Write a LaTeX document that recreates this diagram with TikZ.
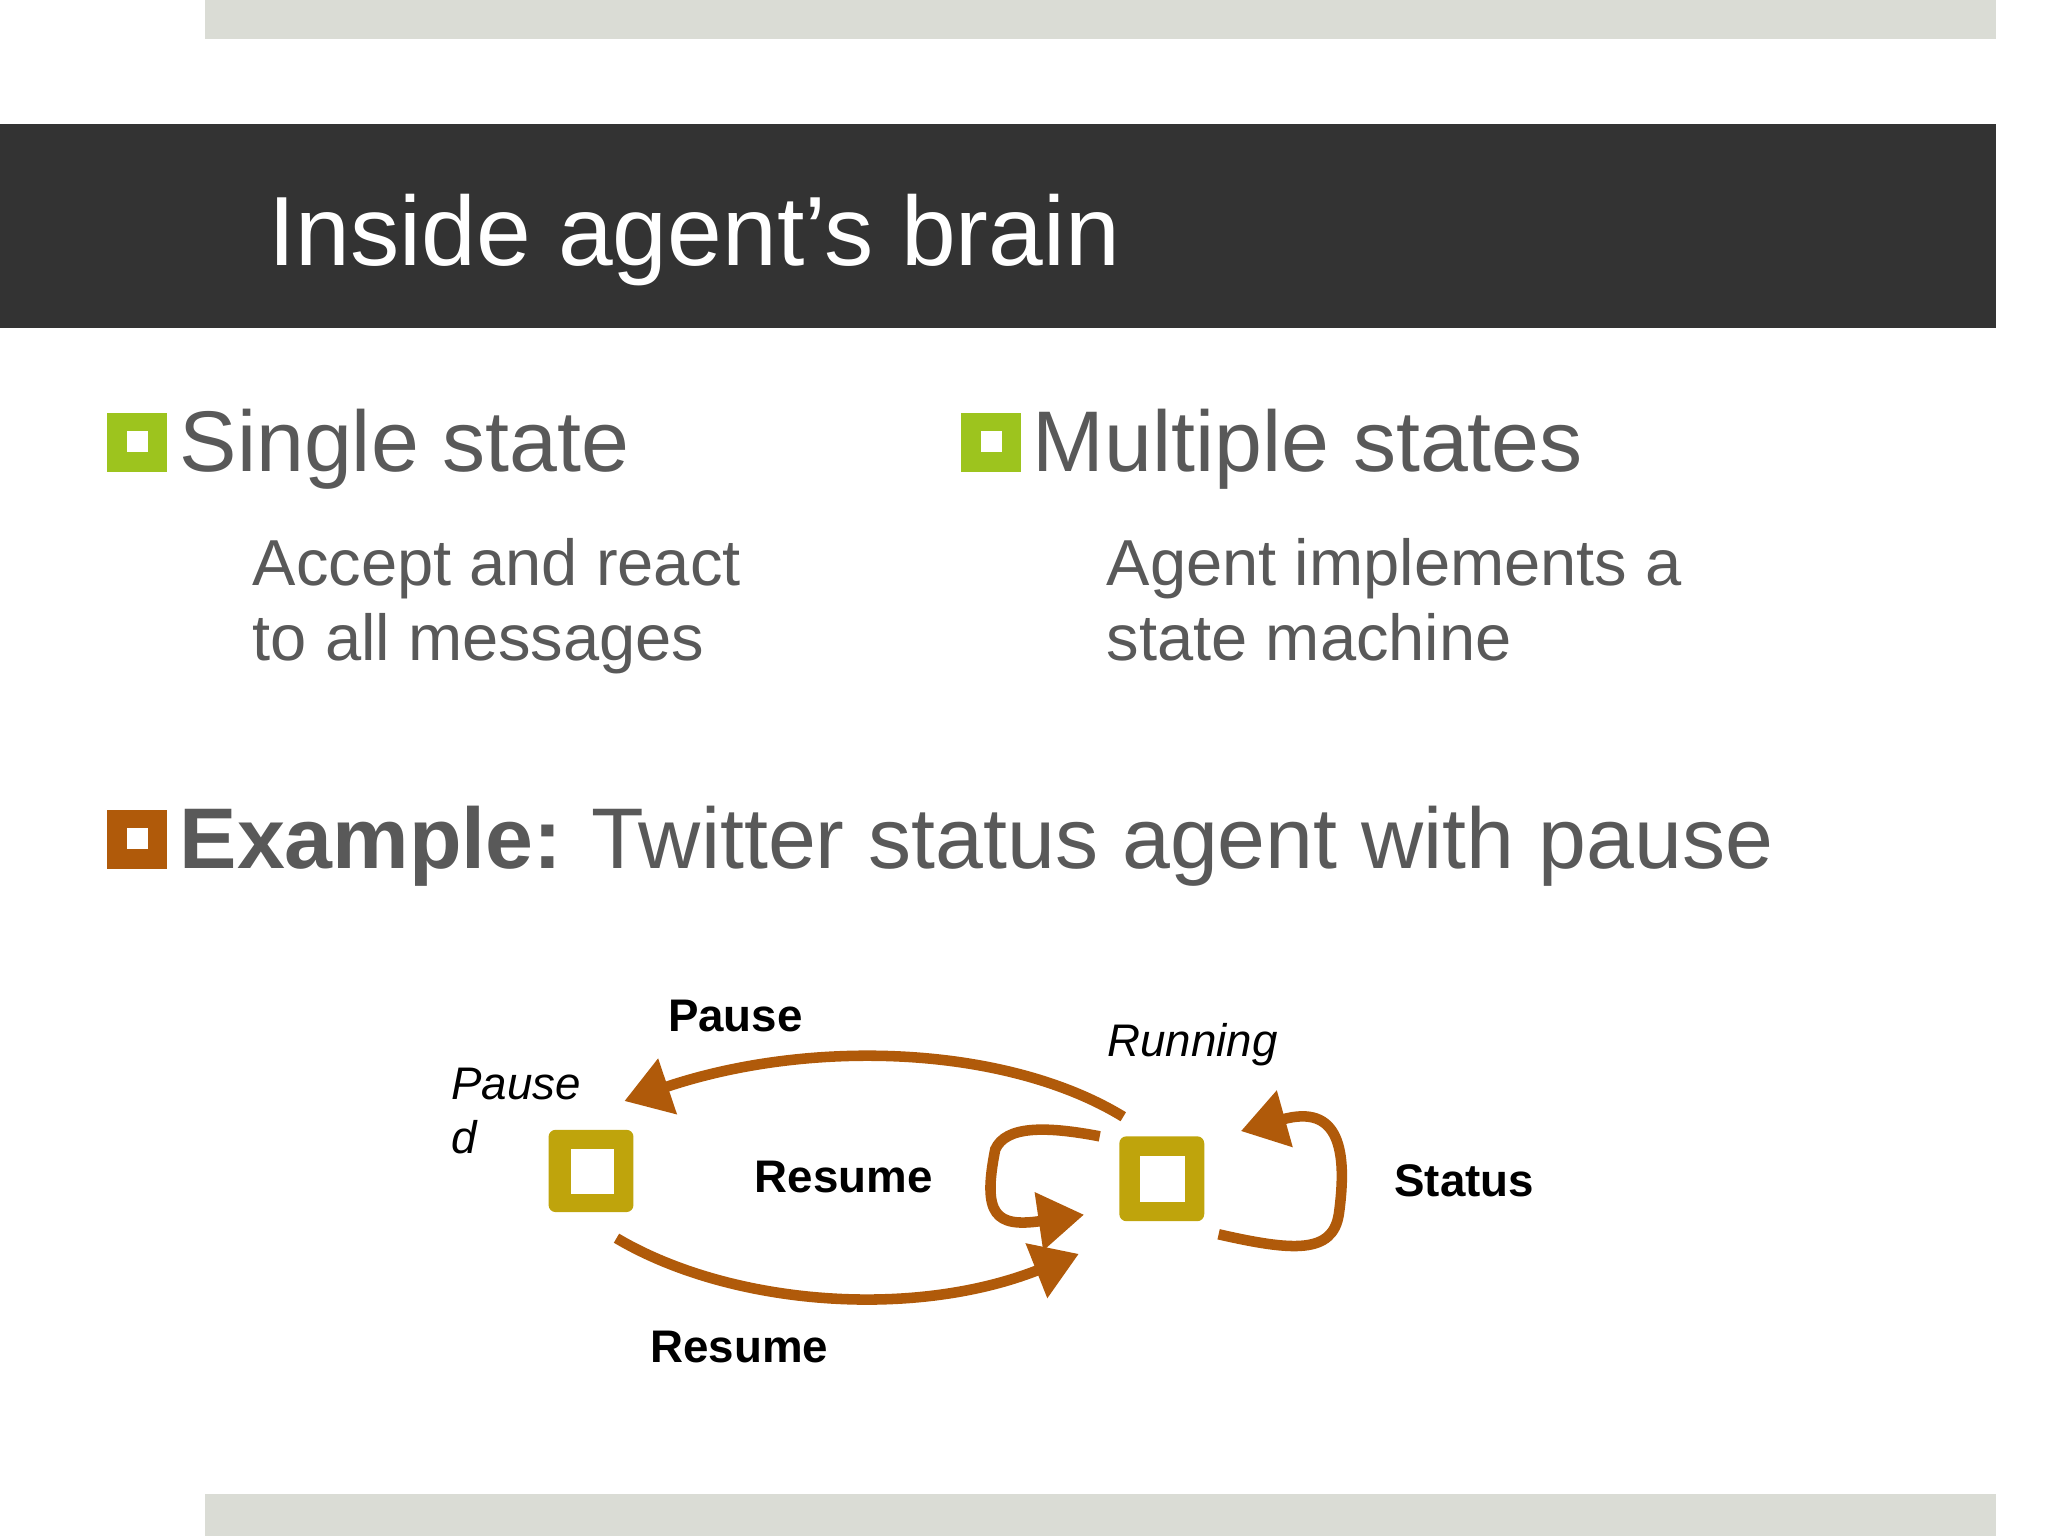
\documentclass[tikz,border=0pt]{standalone}
\usepackage{fontspec}
\setmainfont{Liberation Sans}
\usetikzlibrary{arrows.meta}
\definecolor{barg}{HTML}{DADCD5}
\definecolor{dark}{HTML}{333333}
\definecolor{lime}{HTML}{9DC41E}
\definecolor{brn}{HTML}{B05A0A}
\definecolor{olive}{HTML}{BFA40C}
\definecolor{txt}{HTML}{595959}
\tikzset{
  arr/.style={draw=brn,line width=3pt,-{Triangle[length=13pt,width=16pt]}},
  lbl/.style={font=\fontsize{13}{15}\selectfont\bfseries,inner sep=0pt},
  ilbl/.style={font=\fontsize{13}{15}\selectfont\itshape,inner sep=0pt},
  head/.style={font=\fontsize{24.5}{28}\selectfont,text=txt,anchor=base west,inner sep=0pt},
  sub/.style={font=\fontsize{18.5}{22}\selectfont,text=txt,anchor=base west,inner sep=0pt,align=left},
}
\newcommand{\bulletbox}[3]{%
  \fill[#1] (#2,#3) rectangle ++(46,45);
  \fill[white] (#2+15,#3+14) rectangle ++(16,16);}
\begin{document}
\begin{tikzpicture}[x=0.01306cm,y=-0.01306cm]
\useasboundingbox (0,0) rectangle (1568,1176);
\fill[barg] (157,0) rectangle (1528,30);
\fill[barg] (157,1144) rectangle (1528,1176);
\fill[dark] (0,95) rectangle (1528,251);
\node[font=\fontsize{28}{32}\selectfont,text=white,anchor=base west,inner sep=0pt] (title) at (205,203) {Inside agent’s brain};
\bulletbox{lime}{82}{316}
\node[head] (s1) at (137,361) {Single state};
\node[sub] (s1a) at (193,448) {Accept and react};
\node[sub] (s1b) at (193,506) {to all messages};
\bulletbox{lime}{736}{316}
\node[head] (s2) at (790,361) {Multiple states};
\node[sub] (s2a) at (847,448) {Agent implements a};
\node[sub] (s2b) at (847,506) {state machine};
\bulletbox{brn}{82}{620}
\node[head,font=\fontsize{24.5}{28}\selectfont\bfseries] (ex) at (137,665) {Example:};
\node[head] (ex2) at (452,665) {Twitter status agent with pause};
% states
\fill[olive,rounded corners=2pt] (420,865) rectangle (485,928);
\fill[white] (437,880) rectangle (470,914);
\fill[olive,rounded corners=2pt] (857,870) rectangle (922,935);
\fill[white] (873,885) rectangle (907,920);
\coordinate (P) at (452,896);
\coordinate (R) at (890,902);
% labels
\node[lbl] (lp) at (563,778) {Pause};
\node[ilbl] (lr) at (913,800) {Running};
\node[ilbl,anchor=west] (lpd1) at (345,830) {Pause};
\node[ilbl,anchor=west] (lpd2) at (345,871) {d};
\node[lbl] (lres1) at (646,901) {Resume};
\node[lbl] (lst) at (1121,904) {Status};
\node[lbl] (lres2) at (566,1031) {Resume};
% arrows
\draw[arr] (860,855) .. controls (770,800) and (620,795) .. (478,843);
\draw[arr] (472,948) .. controls (560,1000) and (700,1010) .. (826,960);
\draw[arr] (842,870) .. controls (800,862) and (770,862) .. (762,880) .. controls (752,930) and (762,940) .. (830,930);
\draw[arr] (933,945) .. controls (990,958) and (1020,960) .. (1025,930) .. controls (1032,880) and (1025,845) .. (950,866);
\end{tikzpicture}
\end{document}
